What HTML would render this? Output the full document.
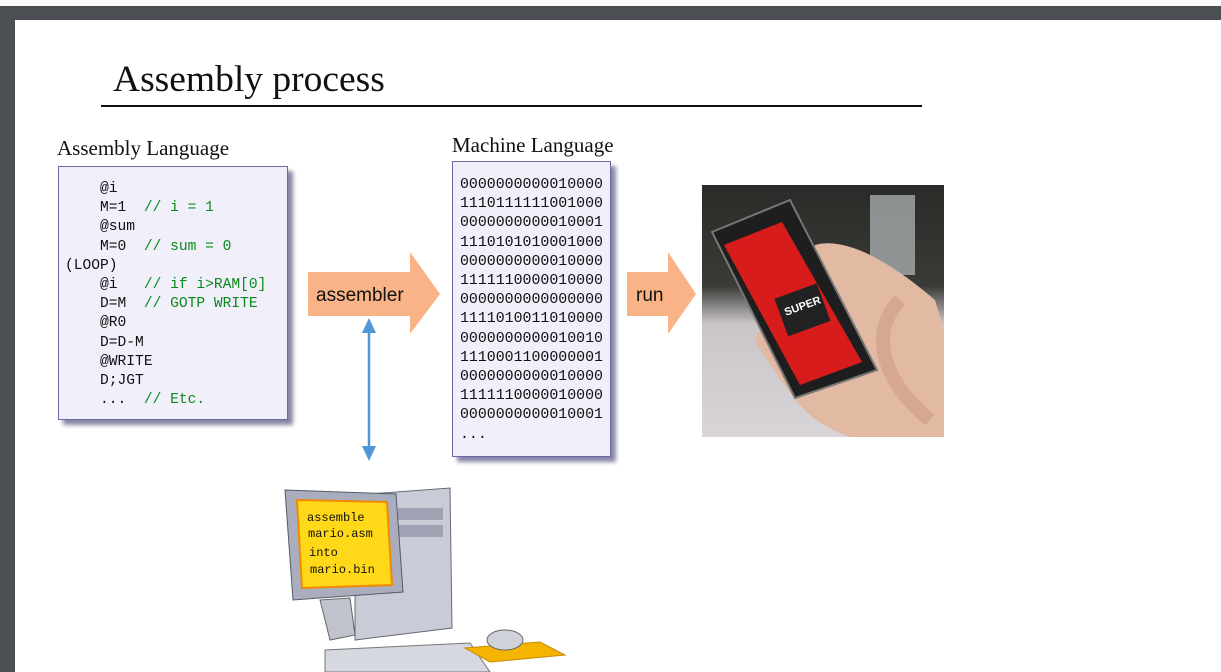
<!DOCTYPE html>
<html><head><style>
body{margin:0;width:1221px;height:672px;overflow:hidden;background:#4b4f53;position:relative;font-family:"Liberation Serif",serif}
.page{position:absolute;left:15px;top:20px;width:1206px;height:652px;background:#fff}
.top{position:absolute;left:0;top:0;width:1221px;height:6px;background:#fafafa}
.abs{position:absolute}
.mono{font-family:"Liberation Mono",monospace;font-size:14.6px;line-height:19.2px;white-space:pre;color:#111}
.g{color:#0a8a1a}
.box{background:#f0effa;border:1px solid #6a6aa8;box-shadow:5px 5px 4px #8888a8}
</style></head><body>
<div class="top"></div>
<div class="page"></div>
<div class="abs" style="left:113px;top:58px;font-size:37.5px;color:#111">Assembly process</div>
<div class="abs" style="left:101px;top:105px;width:821px;height:2px;background:#111"></div>
<div class="abs" style="left:57px;top:136px;font-size:21px;color:#111">Assembly Language</div>
<div class="abs" style="left:452px;top:133px;font-size:21px;color:#111">Machine Language</div>
<div class="abs box mono" style="left:58px;top:166px;width:230px;height:254px;box-sizing:border-box"><div style="position:absolute;left:6px;top:13px">    @i
    M=1  <span class="g">// i = 1</span>
    @sum
    M=0  <span class="g">// sum = 0</span>
(LOOP)
    @i   <span class="g">// if i&gt;RAM[0]</span>
    D=M  <span class="g">// GOTP WRITE</span>
    @R0
    D=D-M
    @WRITE
    D;JGT
    ...  <span class="g">// Etc.</span></div></div>
<div class="abs box mono" style="left:452px;top:161px;width:159px;height:296px;box-sizing:border-box;font-size:14.9px"><div style="position:absolute;left:7px;top:14px">0000000000010000
1110111111001000
0000000000010001
1110101010001000
0000000000010000
1111110000010000
0000000000000000
1111010011010000
0000000000010010
1110001100000001
0000000000010000
1111110000010000
0000000000010001
...</div></div>
<svg class="abs" style="left:0;top:0" width="1221" height="672">
<polygon points="308,272 410,272 410,252 440,294 410,334 410,316 308,316" fill="#f9b386"/>
<text x="316" y="301" font-family="Liberation Sans" font-size="19" fill="#111">assembler</text>
<polygon points="627,272 668,272 668,252 696,294 668,334 668,316 627,316" fill="#f9b386"/>
<text x="636" y="301" font-family="Liberation Sans" font-size="19" fill="#111">run</text>
<line x1="369" y1="326" x2="369" y2="454" stroke="#4f97d6" stroke-width="2.5"/>
<polygon points="369,318 362,333 376,333" fill="#4f97d6"/>
<polygon points="369,461 362,446 376,446" fill="#4f97d6"/>
<defs><linearGradient id="bg" x1="0" y1="0" x2="0" y2="1"><stop offset="0" stop-color="#2a2a28"/><stop offset=".4" stop-color="#3a3a36"/><stop offset=".55" stop-color="#c9c5c8"/><stop offset="1" stop-color="#d8d4d8"/></linearGradient></defs>
<rect x="702" y="185" width="242" height="252" fill="url(#bg)"/>
<rect x="870" y="195" width="45" height="80" fill="#b8bcbe" opacity=".7"/>
<path d="M815,245 C850,235 900,270 935,300 L944,330 L944,437 L850,437 C800,420 790,390 760,350 C745,330 770,320 800,320 Z" fill="#e2b9a2"/>
<polygon points="712,232 790,200 877,370 795,398" fill="#1e1e1e" stroke="#777" stroke-width="2"/>
<polygon points="724,245 782,222 862,362 800,385" fill="#d81c1c"/>
<rect x="780" y="290" width="45" height="40" fill="#222" transform="rotate(-20 802 310)"/>
<text x="785" y="310" font-family="Liberation Sans" font-weight="bold" font-size="11" fill="#fff" transform="rotate(-20 802 310)">SUPER</text>
<path d="M900,300 C870,330 880,380 930,420" fill="none" stroke="#d6a88f" stroke-width="14"/>
<polygon points="355,495 450,488 452,628 355,640" fill="#c9cbd6" stroke="#666b78"/>
<rect x="398" y="508" width="45" height="12" fill="#9ea2b2"/>
<rect x="398" y="525" width="45" height="12" fill="#9ea2b2"/>
<polygon points="285,490 396,494 403,592 293,600" fill="#a9adbd" stroke="#555a66"/>
<polygon points="297,500 387,502 392,585 302,588" fill="#ffd81a" stroke="#f08a00" stroke-width="2"/>
<text font-family="Liberation Mono" font-size="12" fill="#111"><tspan x="307" y="521">assemble</tspan><tspan x="308" y="537">mario.asm</tspan><tspan x="309" y="556">into</tspan><tspan x="310" y="573">mario.bin</tspan></text>
<polygon points="320,600 350,598 355,635 330,640" fill="#c0c2cc" stroke="#666"/>
<polygon points="325,650 470,643 490,672 325,672" fill="#d6d8e0" stroke="#777"/>
<polygon points="465,648 540,642 565,655 490,662" fill="#f4b400" stroke="#c88a00"/>
<ellipse cx="505" cy="640" rx="18" ry="10" fill="#d0d2da" stroke="#666"/>
</svg>
</body></html>
